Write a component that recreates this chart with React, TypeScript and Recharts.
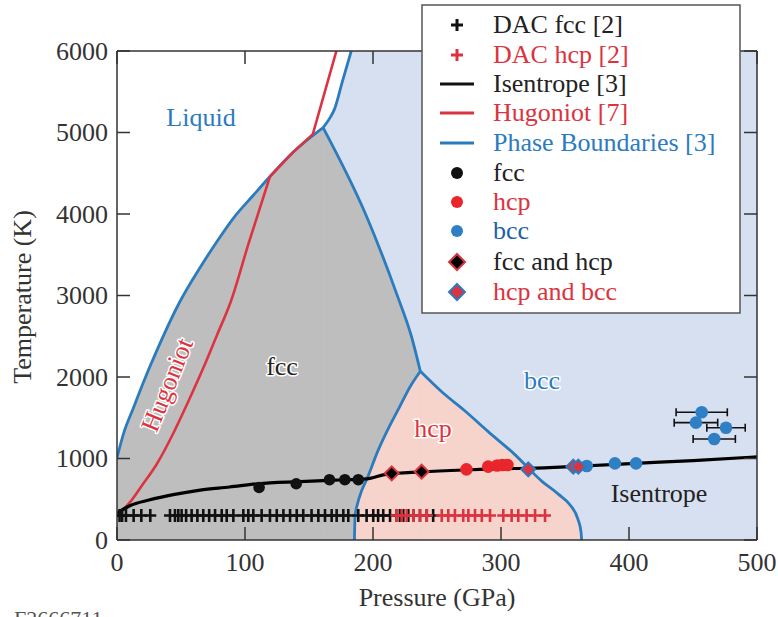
import React from 'react';
import {
  ComposedChart,
  Area,
  Line,
  Scatter,
  XAxis,
  YAxis,
  CartesianGrid,
  ErrorBar,
} from 'recharts';

const FONT = '"Liberation Serif", "Times New Roman", "DejaVu Serif", serif';
const BLUE = '#2b7bbf';
const RED = '#dc3340';
const AXIS = '#333333';
const GRAY_FILL = '#bfbebf';
const PINK_FILL = '#f7d4cb';
const BCC_FILL = '#d7e0f0';
const FS = 26;

// ---- data (pressure GPa, temperature K) ----
const meltFcc = [
  { p: 0, t: 1010 }, { p: 5, t: 1300 }, { p: 12.8, t: 1620 }, { p: 20.5, t: 1930 },
  { p: 31, t: 2320 }, { p: 49, t: 2920 }, { p: 64.8, t: 3340 }, { p: 78, t: 3660 },
  { p: 91, t: 3950 }, { p: 106.5, t: 4230 }, { p: 119.5, t: 4460 }, { p: 137.7, t: 4760 },
  { p: 161, t: 5060 },
];
const meltBcc = [
  { p: 161, t: 5060 }, { p: 166, t: 5170 }, { p: 170, t: 5290 }, { p: 176, t: 5620 }, { p: 183, t: 6000 },
];
const fccBcc = [
  { p: 161, t: 5060 }, { p: 195, t: 3970 }, { p: 218.5, t: 3020 }, { p: 230, t: 2500 }, { p: 237, t: 2070 },
];
const fccHcp = [
  { p: 185.5, t: 0 }, { p: 186, t: 290 }, { p: 188, t: 450 }, { p: 191, t: 600 }, { p: 195, t: 740 },
  { p: 204, t: 1100 }, { p: 213, t: 1400 }, { p: 221, t: 1640 }, { p: 229, t: 1880 }, { p: 237, t: 2070 },
];
const hcpBcc = [
  { p: 237, t: 2070 }, { p: 255, t: 1800 }, { p: 271, t: 1595 }, { p: 290, t: 1330 }, { p: 310, t: 1060 },
  { p: 332, t: 720 }, { p: 345, t: 560 }, { p: 354, t: 430 }, { p: 360, t: 260 }, { p: 362.5, t: 100 }, { p: 363, t: 0 },
];
const hugoniotLow = [
  { p: 0, t: 300 }, { p: 4, t: 360 }, { p: 11.5, t: 490 }, { p: 20, t: 680 }, { p: 31, t: 930 },
  { p: 44, t: 1310 }, { p: 55.7, t: 1700 }, { p: 67.4, t: 2110 }, { p: 78, t: 2510 }, { p: 89, t: 2930 },
  { p: 103, t: 3650 }, { p: 119.5, t: 4460 },
];
const hugoniotHigh = [
  { p: 119.5, t: 4460 }, { p: 137.7, t: 4760 }, { p: 153, t: 4980 }, { p: 171.4, t: 6000 },
];
const isentrope = [
  { p: 0, t: 330 }, { p: 10, t: 420 }, { p: 25, t: 490 }, { p: 45, t: 560 }, { p: 65, t: 613 },
  { p: 88, t: 650 }, { p: 110, t: 690 }, { p: 143, t: 716 }, { p: 170, t: 735 }, { p: 195, t: 750 },
  { p: 210, t: 805 }, { p: 238, t: 835 }, { p: 273, t: 860 }, { p: 300, t: 875 }, { p: 322, t: 880 },
  { p: 360, t: 905 }, { p: 405, t: 940 }, { p: 450, t: 975 }, { p: 500, t: 1020 },
];

const fccDots = [
  { p: 111, t: 645 }, { p: 140, t: 690 }, { p: 166, t: 740 }, { p: 178, t: 740 }, { p: 188.5, t: 740 },
];
const hcpDots = [
  { p: 273, t: 867 }, { p: 290, t: 900 }, { p: 297, t: 915 }, { p: 301, t: 920 }, { p: 305, t: 920 },
];
const bccDots = [
  { p: 367, t: 908 }, { p: 389, t: 940 }, { p: 405.5, t: 940 },
];
const bccErrDots = [
  { p: 456.8, t: 1567, err: 20 }, { p: 452.3, t: 1440, err: 17 },
  { p: 475.8, t: 1378, err: 15 }, { p: 466.6, t: 1239, err: 16.5 },
];
const fccHcpDiamonds = [{ p: 214.6, t: 818 }, { p: 238, t: 838 }];
const hcpBccDiamonds = [{ p: 321.3, t: 867 }, { p: 356.5, t: 900 }, { p: 360.4, t: 900 }];

const dacTemp = 300;
const dacFccP = [
  2, 4, 7, 13, 19, 26, 41.4, 45.3, 47.9, 50.5, 54, 58.3, 62.8, 67.4, 72, 76.6, 81.8, 85.7, 90.9,
  98.7, 102.6, 106.5, 113, 119.5, 124.8, 130, 135.2, 140.4, 145.5, 152, 157.3, 162.5, 167.7, 171.6,
  176.8, 180.7, 188.5, 195, 200.2, 204, 208, 213.3, 218.5, 221, 223.7, 227.6, 231.5, 236.7, 242, 247,
];
const dacHcpP = [
  218.5, 222.4, 226.3, 231.5, 236.7, 242, 253.7, 258.8, 264, 270.5, 274.5, 279.7, 285, 291.4,
  301.8, 308.3, 313.5, 320, 326.6, 334.4,
];

const xTicks = [0, 100, 200, 300, 400, 500];
const yTicks = [0, 1000, 2000, 3000, 4000, 5000, 6000];

const legendItems = [
  { label: 'DAC fcc [2]', kind: 'plus', color: '#111', text: '#222' },
  { label: 'DAC hcp [2]', kind: 'plus', color: RED, text: RED },
  { label: 'Isentrope [3]', kind: 'line', color: '#111', text: '#222' },
  { label: 'Hugoniot [7]', kind: 'line', color: RED, text: RED },
  { label: 'Phase Boundaries [3]', kind: 'line', color: BLUE, text: BLUE },
  { label: 'fcc', kind: 'dot', color: '#111', text: '#222' },
  { label: 'hcp', kind: 'dot', color: '#e8262c', text: RED },
  { label: 'bcc', kind: 'dot', color: '#2f7fc4', text: '#1f5fa8' },
  { label: 'fcc and hcp', kind: 'diamondA', color: '#111', text: '#222' },
  { label: 'hcp and bcc', kind: 'diamondB', color: RED, text: RED },
];

// ---- derived ----
const dacFcc = dacFccP.map((p) => ({ p, t: dacTemp }));
const dacHcp = dacHcpP.map((p) => ({ p, t: dacTemp }));

// ---- shapes ----
const plusShape = (color: string) => (props: any) => {
  const { cx, cy } = props;
  if (cx == null || cy == null) return <g />;
  return (
    <path
      d={`M${cx - 6},${cy}H${cx + 6}M${cx},${cy - 6.5}V${cy + 6.5}`}
      stroke={color}
      strokeWidth={2.6}
      fill="none"
    />
  );
};
const dotShape = (color: string, r: number) => (props: any) => {
  const { cx, cy } = props;
  if (cx == null || cy == null) return <g />;
  return <circle cx={cx} cy={cy} r={r} fill={color} />;
};
const diamondShape = (fill: string, stroke: string) => (props: any) => {
  const { cx, cy } = props;
  if (cx == null || cy == null) return <g />;
  const h = 7;
  return (
    <path
      d={`M${cx},${cy - h}L${cx + h},${cy}L${cx},${cy + h}L${cx - h},${cy}Z`}
      fill={fill}
      stroke={stroke}
      strokeWidth={2}
    />
  );
};

const txt = { fontFamily: FONT, fontSize: FS };

// ---- ticks (inward tick marks) ----
const LeftTick = (props: any) => {
  const { x, y, payload } = props;
  return (
    <g>
      <line x1={x + 9} x2={x + 22} y1={y} y2={y} stroke={AXIS} strokeWidth={1.5} />
      <text x={x} y={y} textAnchor="end" dominantBaseline="central" style={txt} fill={AXIS}>
        {payload.value}
      </text>
    </g>
  );
};
const BottomTick = (props: any) => {
  const { x, y, payload } = props;
  return (
    <g>
      <line x1={x} x2={x} y1={y - 13} y2={y - 26} stroke={AXIS} strokeWidth={1.5} />
      <text x={x} y={y} dy="0.71em" textAnchor="middle" style={txt} fill={AXIS}>
        {payload.value}
      </text>
    </g>
  );
};
const TopTick = (props: any) => {
  const { x, y } = props;
  return <line x1={x} x2={x} y1={y} y2={y + 13} stroke={AXIS} strokeWidth={1.5} />;
};
const RightTick = (props: any) => {
  const { x, y } = props;
  return <line x1={x} x2={x - 13} y1={y} y2={y} stroke={AXIS} strokeWidth={1.5} />;
};

const LegendIcon = ({ kind, color, cx, cy }: any) => {
  if (kind === 'plus')
    return <path d={`M${cx - 6},${cy}H${cx + 6}M${cx},${cy - 6}V${cy + 6}`} stroke={color} strokeWidth={3} />;
  if (kind === 'line') return <line x1={cx - 17} x2={cx + 17} y1={cy} y2={cy} stroke={color} strokeWidth={3} />;
  if (kind === 'dot') return <circle cx={cx} cy={cy} r={6} fill={color} />;
  const h = 8;
  const d = `M${cx},${cy - h}L${cx + h},${cy}L${cx},${cy + h}L${cx - h},${cy}Z`;
  if (kind === 'diamondA') return <path d={d} fill="#000" stroke={RED} strokeWidth={2} />;
  return <path d={d} fill={RED} stroke={BLUE} strokeWidth={2} />;
};

const halo = { stroke: '#fff', strokeWidth: 3, paintOrder: 'stroke' as const, strokeLinejoin: 'round' as const };

export default function App() {
  const legendRows = [25, 55, 84, 113, 143, 173, 202, 231, 262, 292];
  const common = { isAnimationActive: false, dot: false, activeDot: false } as const;
  return (
    <div style={{ position: 'absolute', left: 0, top: 0, width: 778, height: 617, background: '#fff', overflow: 'hidden', fontFamily: FONT }}>
      <ComposedChart width={778} height={617} margin={{ top: 50, right: 20, bottom: 37, left: 57 }}>
        <CartesianGrid horizontal={false} vertical={false} fill={BCC_FILL} stroke="none" />
        <XAxis
          xAxisId={0}
          type="number"
          dataKey="p"
          domain={[0, 500]}
          allowDataOverflow
          ticks={xTicks}
          interval={0}
          height={40}
          tickSize={0}
          tickMargin={13}
          tickLine={false}
          axisLine={{ stroke: AXIS, strokeWidth: 1.5 }}
          tick={BottomTick}
        />
        <XAxis
          xAxisId="top"
          orientation="top"
          type="number"
          dataKey="p"
          domain={[0, 500]}
          allowDataOverflow
          ticks={xTicks}
          interval={0}
          height={1}
          tickSize={0}
          tickMargin={0}
          tickLine={false}
          axisLine={{ stroke: AXIS, strokeWidth: 1.5 }}
          tick={TopTick}
        />
        <YAxis
          yAxisId={0}
          type="number"
          domain={[0, 6000]}
          allowDataOverflow
          ticks={yTicks}
          interval={0}
          width={60}
          tickSize={0}
          tickMargin={9}
          tickLine={false}
          axisLine={{ stroke: AXIS, strokeWidth: 1.5 }}
          tick={LeftTick}
        />
        <YAxis
          yAxisId="right"
          orientation="right"
          type="number"
          domain={[0, 6000]}
          allowDataOverflow
          ticks={yTicks}
          interval={0}
          width={1}
          tickSize={0}
          tickMargin={0}
          tickLine={false}
          axisLine={{ stroke: AXIS, strokeWidth: 1.5 }}
          tick={RightTick}
        />

        {/* liquid (white) above melt curves */}
        <Area data={meltFcc} dataKey="t" type="monotone" baseValue={6000} fill="#ffffff" fillOpacity={1} stroke="none" {...common} />
        <Area data={meltBcc} dataKey="t" type="monotone" baseValue={6000} fill="#ffffff" fillOpacity={1} stroke="none" {...common} />
        {/* fcc (gray) */}
        <Area data={meltFcc} dataKey="t" type="monotone" baseValue={0} fill={GRAY_FILL} fillOpacity={1} stroke="none" {...common} />
        <Area data={fccBcc} dataKey="t" type="monotone" baseValue={0} fill={GRAY_FILL} fillOpacity={1} stroke="none" {...common} />
        {/* hcp (pink) */}
        <Area data={fccHcp} dataKey="t" type="monotone" baseValue={0} fill={PINK_FILL} fillOpacity={1} stroke="none" {...common} />
        <Area data={hcpBcc} dataKey="t" type="monotone" baseValue={0} fill={PINK_FILL} fillOpacity={1} stroke="none" {...common} />

        <Line data={meltFcc} dataKey="t" type="monotone" stroke={BLUE} strokeWidth={2.8} {...common} />
        <Line data={meltBcc} dataKey="t" type="monotone" stroke={BLUE} strokeWidth={2.8} {...common} />
        <Line data={fccBcc} dataKey="t" type="monotone" stroke={BLUE} strokeWidth={2.8} {...common} />
        <Line data={fccHcp} dataKey="t" type="monotone" stroke={BLUE} strokeWidth={2.8} {...common} />
        <Line data={hcpBcc} dataKey="t" type="monotone" stroke={BLUE} strokeWidth={2.8} {...common} />
        <Line data={hugoniotLow} dataKey="t" type="monotone" stroke={RED} strokeWidth={2.6} {...common} />
        <Line data={hugoniotHigh} dataKey="t" type="linear" stroke={RED} strokeWidth={2.6} {...common} />

        <Scatter data={dacFcc} dataKey="t" shape={plusShape('#111')} isAnimationActive={false} />
        <Scatter data={dacHcp} dataKey="t" shape={plusShape(RED)} isAnimationActive={false} />

        <Line data={isentrope} dataKey="t" type="monotone" stroke="#000" strokeWidth={3.2} {...common} />

        <Scatter data={fccDots} dataKey="t" shape={dotShape('#111', 5.8)} isAnimationActive={false} />
        <Scatter data={hcpDots} dataKey="t" shape={dotShape('#e8262c', 6.3)} isAnimationActive={false} />
        <Scatter data={bccDots} dataKey="t" shape={dotShape('#2f7fc4', 6.3)} isAnimationActive={false} />
        <Scatter data={bccErrDots} dataKey="t" shape={dotShape('#2f7fc4', 6.3)} isAnimationActive={false}>
          <ErrorBar dataKey="err" direction="x" width={4} stroke="#111" strokeWidth={1.6} />
        </Scatter>
        <Scatter data={fccHcpDiamonds} dataKey="t" shape={diamondShape('#000', RED)} isAnimationActive={false} />
        <Scatter data={hcpBccDiamonds} dataKey="t" shape={diamondShape(RED, BLUE)} isAnimationActive={false} />
      </ComposedChart>

      <svg width={778} height={617} style={{ position: 'absolute', left: 0, top: 0, pointerEvents: 'none' }}>
        <g style={txt}>
          <text x={201} y={126} textAnchor="middle" fill={BLUE} style={txt}>Liquid</text>
          <text x={282} y={375} textAnchor="middle" fill="#222" style={txt} {...halo}>fcc</text>
          <text x={433} y={437} textAnchor="middle" fill={RED} style={txt} {...halo}>hcp</text>
          <text x={542} y={389} textAnchor="middle" fill={BLUE} style={txt} {...halo}>bcc</text>
          <text x={659} y={502} textAnchor="middle" fill="#222" style={txt}>Isentrope</text>
          <text x={0} y={0} textAnchor="middle" fill={RED} style={txt} {...halo} transform="translate(175,388) rotate(-68)">Hugoniot</text>

          <text x={437} y={606} textAnchor="middle" fill={AXIS} style={txt}>Pressure (GPa)</text>
          <text x={0} y={0} textAnchor="middle" fill={AXIS} style={txt} transform="translate(31,297) rotate(-90)">Temperature (K)</text>
          <text x={14} y={626} fill="#555" style={{ fontFamily: FONT, fontSize: 22 }}>F2666711</text>
        </g>

        <rect x={422} y={5} width={318} height={308} fill="#fff" stroke="#555" strokeWidth={1.5} />
        {legendItems.map((it, i) => (
          <g key={it.label}>
            <LegendIcon kind={it.kind} color={it.color} cx={457} cy={legendRows[i]} />
            <text x={493} y={legendRows[i] + 8} style={txt} fill={it.text}>
              {it.label}
            </text>
          </g>
        ))}
      </svg>
    </div>
  );
}
